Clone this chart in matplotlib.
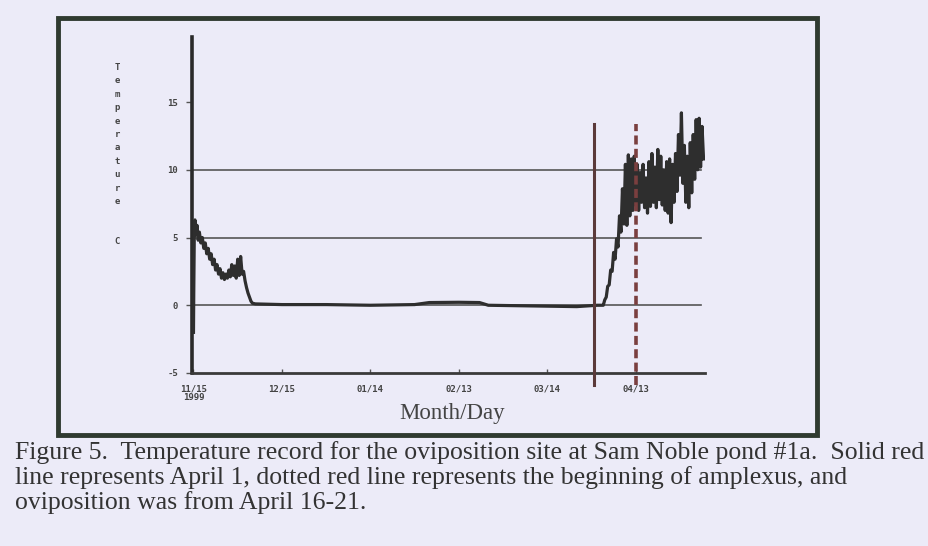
#! /usr/bin/env python3

import numpy as np
import matplotlib
matplotlib.use('Agg')
import matplotlib.pyplot as plt
from matplotlib.patches import Rectangle

# days counted from 11/15/1999
tick_days = [0, 30, 60, 90, 120, 150]
tick_labels = ['11/15\n1999', '12/15', '01/14', '02/13', '03/14', '04/13']
y_ticks = [-5, 0, 5, 10, 15]
grid_levels = [0, 5, 10]

# fall cooling
fall_days = [0, 0.1, 0.3, 0.5, 0.8, 1.2, 1.6, 2.0, 2.5, 3.0, 3.5, 4.0, 4.5, 5.0, 5.5,
             6.0, 6.5, 7.0, 7.5, 8.0, 8.5, 9.0, 9.5, 10.0, 10.5, 11.0, 11.5, 12.0,
             12.5, 13.0, 13.5, 14.0, 14.5, 15.0, 15.5, 16.0, 16.5, 17.0, 17.5, 18.0,
             18.5, 19.0, 19.5, 20.0]
fall_temp = [-2.0, 1.0, 5.8, 6.3, 5.2, 5.9, 4.8, 5.4, 4.6, 5.0, 4.2, 4.6, 3.8, 4.2, 3.4,
             3.8, 3.0, 3.4, 2.6, 3.0, 2.3, 2.7, 2.0, 2.4, 1.9, 2.3, 2.0, 2.6,
             2.1, 3.0, 2.2, 2.9, 2.0, 3.4, 2.2, 3.6, 2.3, 2.5, 1.8, 1.3,
             0.9, 0.6, 0.3, 0.15]

# winter, frozen pond bottom near 0
winter_days = [21, 30, 45, 60, 75, 80, 90, 97, 100, 115, 130, 137, 138.5]
winter_temp = [0.1, 0.05, 0.05, 0.0, 0.05, 0.2, 0.22, 0.2, 0.0, -0.05, -0.1, 0.0, 0.0]

# spring, half-day readings starting at day 139
spring_start = 139.0
spring_temp = [0.0, 0.4, 0.6, 1.4, 1.5, 2.6, 2.5, 3.9, 3.4, 4.9, 4.3, 6.6,
               5.4, 8.6, 6.0, 10.4, 5.9, 11.1, 6.6, 10.8, 7.0, 11.0, 7.4, 10.4,
               7.0, 9.8, 7.6, 10.4, 7.2, 9.4, 6.8, 10.6, 7.3, 11.2, 7.6, 10.2,
               7.2, 11.5, 7.8, 11.0, 7.4, 10.0, 7.0, 10.6, 6.8, 10.8, 6.1, 10.4,
               7.6, 11.2, 8.4, 12.6, 9.6, 14.2, 9.0, 11.8, 7.6, 11.0, 7.2, 12.0,
               8.3, 12.6, 9.3, 13.7, 10.0, 13.8, 10.2, 13.2, 10.8]

april_1_day = 135.7      # solid line
amplexus_day = 150.2     # dotted line

caption = ("Figure 5.  Temperature record for the oviposition site at Sam Noble pond #1a.  Solid red\n"
           "line represents April 1, dotted red line represents the beginning of amplexus, and\n"
           "oviposition was from April 16-21.")

W, H = 929, 546
bg = '#ECEBF8'


def fx(px):
    return px / W


def fy(py):
    return 1 - py / H


def main():
    fig = plt.figure(figsize=(W / 100, H / 100), dpi=100, facecolor=bg)

    # outer frame of the scanned figure
    fig.patches.append(Rectangle((fx(58), fy(435)), fx(817) - fx(58), fy(18) - fy(435),
                                 transform=fig.transFigure, fill=False,
                                 edgecolor='#2F3A30', linewidth=3.5))

    ax = fig.add_axes([fx(192), fy(373), fx(705) - fx(192), fy(37) - fy(373)])
    ax.set_facecolor('none')

    spring_days = spring_start + 0.5 * np.arange(len(spring_temp))
    days = list(fall_days) + list(winter_days) + list(spring_days)
    temp = list(fall_temp) + list(winter_temp) + list(spring_temp)

    for g in grid_levels:
        ax.plot([0, 172], [g, g], color='#555555', linewidth=1.2, zorder=1)

    ax.plot(days, temp, color='#2e2e2e', linewidth=2.3, zorder=3)

    ax.plot([april_1_day, april_1_day], [-5.9, 13.4], color='#5B3A3A',
            linewidth=2.2, clip_on=False, zorder=4)
    ax.plot([amplexus_day, amplexus_day], [-5.9, 13.4], color='#7A3F3F',
            linewidth=2.6, linestyle=(0, (2.5, 1.2)), clip_on=False, zorder=4)

    ax.set_xlim(-0.5, 173.5)
    ax.set_ylim(-5, 19.8)
    for s in ['top', 'right']:
        ax.spines[s].set_visible(False)
    ax.spines['left'].set_linewidth(2.6)
    ax.spines['left'].set_color('#2a2a2a')
    ax.spines['bottom'].set_linewidth(2.0)
    ax.spines['bottom'].set_color('#3a3a3a')

    ax.set_xticks(tick_days)
    ax.set_xticklabels(tick_labels, fontsize=6.5, family='DejaVu Sans Mono',
                       fontweight='bold', color='#444444', linespacing=1.0)
    ax.set_yticks(y_ticks)
    ax.set_yticklabels([str(v) for v in y_ticks], fontsize=6.5, family='DejaVu Sans Mono',
                       fontweight='bold', color='#444444')
    ax.tick_params(axis='x', direction='in', length=3, width=1, pad=8, colors='#555555',
                   labelcolor='#444444')
    ax.tick_params(axis='y', direction='out', length=4, width=1, pad=6, colors='#555555',
                   labelcolor='#444444')

    # stacked axis title
    fig.text(fx(117), fy(63), '\n'.join('Temperature'), ha='center', va='top',
             fontsize=6.5, family='DejaVu Sans Mono', fontweight='bold', color='#444444',
             linespacing=1.63)
    fig.text(fx(117), fy(242), 'C', ha='center', va='center',
             fontsize=6.5, family='DejaVu Sans Mono', fontweight='bold', color='#444444')

    fig.text(fx(452), fy(413), 'Month/Day', ha='center', va='center',
             fontsize=16.5, family='Liberation Serif', color='#444444')

    fig.text(fx(15), fy(441), caption, ha='left', va='top', fontsize=18.5,
             family='Liberation Serif', color='#333333', linespacing=1.12)

    fig.savefig('out.png', dpi=100, facecolor=bg)


if __name__ == "__main__":
    main()
